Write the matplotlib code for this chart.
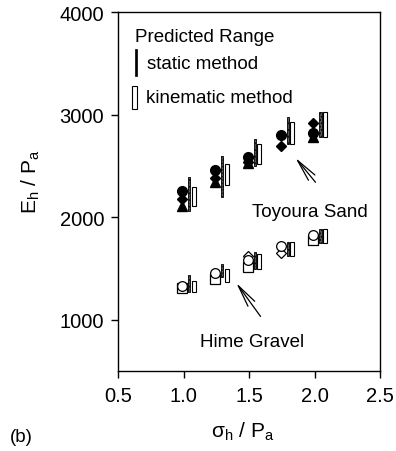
import numpy as np
import matplotlib
matplotlib.use('Agg')
import matplotlib.pyplot as plt
from matplotlib.patches import Rectangle

plt.rcParams['font.family'] = ['Liberation Sans', 'DejaVu Sans']
plt.rcParams['mathtext.fontset'] = 'custom'
plt.rcParams['mathtext.rm'] = 'Liberation Sans'
plt.rcParams['mathtext.it'] = 'Liberation Sans'

# ------------------------------------------------------------
# data
# ------------------------------------------------------------
sigma = [1.0, 1.25, 1.5, 1.75, 2.0]

# Toyoura Sand (filled markers)
toy_circle = [2260, 2460, 2590, 2800, 2820]
toy_diamond = [2180, 2380, 2540, 2690, 2920]
toy_triangle = [2110, 2340, 2530, np.nan, 2780]
toy_static_lo = [2060, 2200, 2500, 2710, 2780]
toy_static_hi = [2390, 2600, 2760, 2980, 3030]
toy_kin_lo = [2110, 2310, 2520, 2710, 2780]
toy_kin_hi = [2290, 2520, 2710, 2930, 3030]

# Hime Gravel (open markers)
hime_circle = [1330, 1455, 1580, 1720, 1830]
hime_square = [1310, 1400, 1510, np.nan, 1780]
hime_diamond = [np.nan, np.nan, 1620, 1650, np.nan]
hime_static_lo = [1270, 1420, 1490, 1620, 1750]
hime_static_hi = [1440, 1540, 1660, 1760, 1880]
hime_kin_lo = [1270, 1370, 1490, 1620, 1750]
hime_kin_hi = [1380, 1490, 1640, 1760, 1880]

x = np.array(sigma)
fig = plt.figure(figsize=(3.96, 4.52), dpi=100)
ax = fig.add_axes([0.298, 0.177, 0.662, 0.794])

ms = 7
# filled markers
ax.plot(x - 0.01, toy_triangle, '^', color='black', ms=ms, ls='none')
ax.plot(x - 0.01, toy_diamond, 'D', color='black', ms=ms - 1.5, ls='none')
ax.plot(x - 0.01, toy_circle, 'o', color='black', ms=ms, ls='none')
# open markers
ax.plot(x - 0.01, hime_square, 's', mfc='white', mec='black', mew=0.9, ms=ms - 0.5, ls='none')
ax.plot(x - 0.01, hime_diamond, 'D', mfc='white', mec='black', mew=0.9, ms=ms - 1.5, ls='none')
ax.plot(x - 0.01, hime_circle, 'o', mfc='white', mec='black', mew=0.9, ms=ms, ls='none')

# predicted ranges
for lo, hi in [(toy_static_lo, toy_static_hi), (hime_static_lo, hime_static_hi)]:
    lo, hi = np.array(lo), np.array(hi)
    ax.bar(x + 0.045, hi - lo, bottom=lo, width=0.016, color='0.35',
           edgecolor='black', linewidth=0.6, hatch='.....')
for lo, hi in [(toy_kin_lo, toy_kin_hi), (hime_kin_lo, hime_kin_hi)]:
    lo, hi = np.array(lo), np.array(hi)
    ax.bar(x + 0.078, hi - lo, bottom=lo, width=0.03, color='white',
           edgecolor='black', linewidth=0.8)

# legend drawn by hand
ax.text(0.065, 0.933, 'Predicted Range', transform=ax.transAxes,
        fontsize=13.5, va='center', ha='left')
ax.add_patch(Rectangle((0.066, 0.822), 0.006, 0.075, transform=ax.transAxes,
                       facecolor='black', edgecolor='black', lw=0.5))
ax.text(0.11, 0.857, 'static method', transform=ax.transAxes,
        fontsize=13.5, va='center', ha='left')
ax.add_patch(Rectangle((0.055, 0.73), 0.017, 0.065, transform=ax.transAxes,
                       facecolor='white', edgecolor='black', lw=0.8))
ax.text(0.105, 0.762, 'kinematic method', transform=ax.transAxes,
        fontsize=13.5, va='center', ha='left')

# annotations
ax.annotate('', xy=(1.84, 2600), xytext=(2.02, 2320),
            arrowprops=dict(arrowstyle='->, head_length=1.6, head_width=0.3', lw=0.9, color='black'))
ax.text(1.96, 2060, 'Toyoura Sand', fontsize=13.5, ha='center', va='center')
ax.annotate('', xy=(1.39, 1380), xytext=(1.60, 1010),
            arrowprops=dict(arrowstyle='->, head_length=1.6, head_width=0.3', lw=0.9, color='black'))
ax.text(1.52, 790, 'Hime Gravel', fontsize=13.5, ha='center', va='center')

ax.set_xlim(0.5, 2.5)
ax.set_ylim(500, 4000)
ax.set_xticks([0.5, 1.0, 1.5, 2.0, 2.5])
ax.set_xticklabels(['0.5', '1.0', '1.5', '2.0', '2.5'])
ax.set_yticks([1000, 2000, 3000, 4000])
ax.tick_params(direction='out', length=5, width=1, labelsize=14.5)
ax.tick_params(axis='x', pad=6)
ax.tick_params(axis='y', pad=5)
for s in ax.spines.values():
    s.set_linewidth(1)

ax.set_xlabel(r'$\mathregular{\sigma_h\ /\ P_a}$', fontsize=15)
ax.set_ylabel(r'$\mathregular{E_h\ /\ P_a}$', fontsize=15)
ax.xaxis.set_label_coords(0.477, -0.135)
ax.yaxis.set_label_coords(-0.29, 0.53)
fig.text(0.025, 0.033, '(b)', fontsize=13.5, ha='left', va='center')

fig.savefig('out.png', dpi=100)
